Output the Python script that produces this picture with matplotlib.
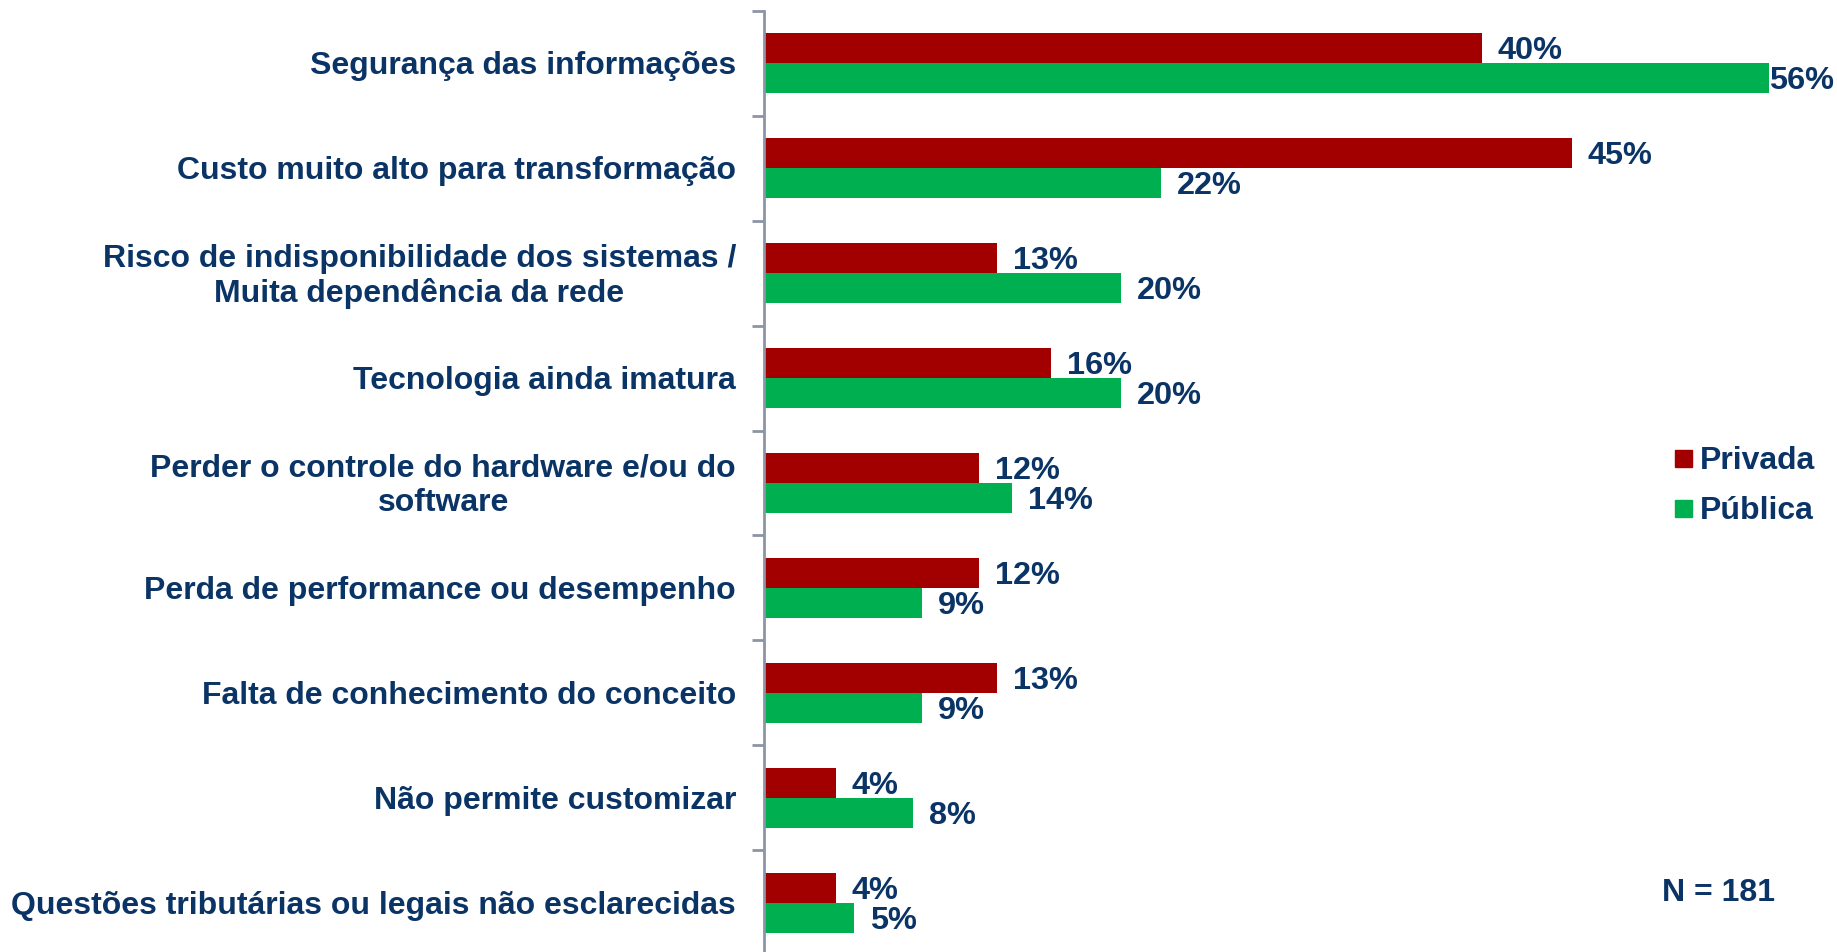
import matplotlib
matplotlib.use("Agg")
import matplotlib.pyplot as plt
from matplotlib.patches import Rectangle
import numpy as np

categories = [
    "Segurança das informações",
    "Custo muito alto para transformação",
    "Risco de indisponibilidade dos sistemas /\nMuita dependência da rede",
    "Tecnologia ainda imatura",
    "Perder o controle do hardware e/ou do\nsoftware",
    "Perda de performance ou desempenho",
    "Falta de conhecimento do conceito",
    "Não permite customizar",
    "Questões tributárias ou legais não esclarecidas",
]
# bar lengths (labels show rounded values)
privada = [40, 45, 13, 16, 12, 12, 13, 4, 4]
publica = [56, 22.1, 19.9, 19.9, 13.8, 8.8, 8.8, 8.3, 5]
series_names = ["Privada", "Pública"]

RED = "#A20000"
GREEN = "#00AF50"
NAVY = "#0B3466"
AXIS = "#8C94A6"

W, H = 1837, 953
DPI = 100
plt.rcParams['font.family'] = ['Liberation Sans', 'DejaVu Sans']
fig = plt.figure(figsize=(W / DPI, H / DPI), dpi=DPI)

ax_left = 764 / W
ax_top = 1 - 12 / H
ax_bottom = (953 - 956) / H
ax = fig.add_axes([ax_left, ax_bottom, 1 - ax_left, ax_top - ax_bottom])

px_per_unit = 17.95
xmax = (W - 764) / px_per_unit
ax.set_xlim(0, xmax)
n = len(categories)
ax.set_ylim(n - 0.5, -0.5)

y = np.arange(n)
bh = 0.286
ax.barh(y - bh / 2, privada, height=bh, color=RED, edgecolor="none")
ax.barh(y + bh / 2, publica, height=bh, color=GREEN, edgecolor="none")

fs_cat = 23
fs_val = 23.4
for i in range(n):
    for val, off in ((privada[i], -bh / 2), (publica[i], bh / 2)):
        dx = 16
        if val + (16 + 60) / px_per_unit > xmax:
            dx = 0
        ax.annotate(f"{round(val)}%", xy=(val, i + off), xycoords="data",
                    xytext=(dx, -2), textcoords="offset pixels",
                    ha="left", va="center",
                    fontsize=fs_val, fontweight="bold", color=NAVY)

for s in ["top", "right", "bottom"]:
    ax.spines[s].set_visible(False)
ax.spines["left"].set_color(AXIS)
ax.spines["left"].set_linewidth(2)
ax.set_xticks([])
ax.set_yticks(np.arange(n) - 0.5)
ax.set_yticklabels([])
ax.tick_params(axis="y", length=9, width=2, color=AXIS, direction="out")

for i, c in enumerate(categories):
    ax.annotate(c, xy=(0, i), xycoords=("axes fraction", "data"),
                xytext=(-28, -2), textcoords="offset pixels",
                ha="right", va="center", multialignment="center",
                fontsize=fs_cat, fontweight="bold", color=NAVY, linespacing=1.18)

# legend
for k, (name, col, yc) in enumerate(zip(series_names, [RED, GREEN], [459, 509])):
    fig.patches.append(Rectangle((1675 / W, 1 - (yc + 8.5) / H), 17 / W, 17 / H,
                                 transform=fig.transFigure, color=col))
    fig.text(1700 / W, 1 - (yc + 2) / H, name, ha="left", va="center",
             fontsize=fs_cat, fontweight="bold", color=NAVY)

fig.text(1719 / W, 1 - 893 / H, "N = 181", ha="center", va="center",
         fontsize=fs_cat, fontweight="bold", color=NAVY)

fig.savefig("out.png", dpi=DPI)
